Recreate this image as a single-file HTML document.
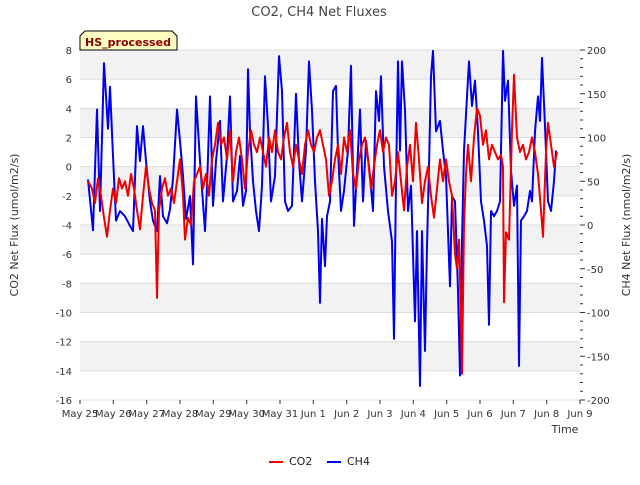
<!DOCTYPE html>
<html><head><meta charset="utf-8"><style>
body{margin:0;background:#fff;font-family:"Liberation Sans","DejaVu Sans",sans-serif;}
svg text{font-family:"DejaVu Sans","Liberation Sans",sans-serif;}
</style></head><body>
<svg id="chart" width="640" height="480" xmlns="http://www.w3.org/2000/svg">
<rect width="640" height="480" fill="#fff"/>
<text x="319" y="16" text-anchor="middle" font-size="13" fill="#444">CO2, CH4 Net Fluxes</text>
<g id="bands"></g>
<g id="grid"></g>
<g id="series"></g>
<g id="axes"></g>
<text transform="translate(18,225) rotate(-90)" text-anchor="middle" font-size="11" fill="#333">CO2 Net Flux (umol/m2/s)</text>
<text transform="translate(630,225) rotate(-90)" text-anchor="middle" font-size="11" fill="#333">CH4 Net Flux (nmol/m2/s)</text>
<text x="565" y="433" text-anchor="middle" font-size="11" fill="#333">Time</text>
<g>
<path d="M80,50 L80,36 L85,31 L172,31 L177,36 L177,50 Z" fill="#ffffc4" stroke="#000" stroke-width="1"/>
<text x="128" y="46" text-anchor="middle" font-size="11" font-weight="bold" fill="#8b0000">HS_processed</text>
</g>
<g>
<line x1="269" y1="462" x2="283" y2="462" stroke="#ee0000" stroke-width="2"/>
<text x="289" y="465" font-size="11" fill="#222">CO2</text>
<line x1="327" y1="462" x2="341" y2="462" stroke="#0000ee" stroke-width="2"/>
<text x="347" y="465" font-size="11" fill="#222">CH4</text>
</g>
</svg>
<script>
const xTickLabels=["May 25","May 26","May 27","May 28","May 29","May 30","May 31","Jun 1","Jun 2","Jun 3","Jun 4","Jun 5","Jun 6","Jun 7","Jun 8","Jun 9"];
const leftTicks=[8,6,4,2,0,-2,-4,-6,-8,-10,-12,-14,-16];
const rightTicks=[200,150,100,50,0,-50,-100,-150,-200];
const ch4Days=[0.24,0.39,0.51,0.60,0.72,0.84,0.90,0.99,1.08,1.20,1.35,1.50,1.59,1.71,1.80,1.89,1.98,2.10,2.19,2.31,2.40,2.49,2.61,2.70,2.79,2.91,3.00,3.09,3.18,3.30,3.39,3.48,3.60,3.75,3.81,3.90,3.99,4.08,4.20,4.29,4.41,4.50,4.59,4.71,4.80,4.89,4.98,5.04,5.10,5.19,5.28,5.37,5.46,5.55,5.64,5.73,5.85,5.97,6.06,6.15,6.24,6.36,6.48,6.57,6.66,6.78,6.87,6.96,7.05,7.14,7.20,7.26,7.35,7.41,7.50,7.59,7.68,7.74,7.83,7.92,8.04,8.13,8.22,8.31,8.40,8.49,8.58,8.70,8.79,8.88,8.97,9.03,9.12,9.24,9.36,9.42,9.48,9.54,9.60,9.66,9.75,9.84,9.93,10.05,10.11,10.20,10.26,10.35,10.41,10.47,10.53,10.59,10.68,10.80,10.89,10.98,11.07,11.10,11.16,11.25,11.34,11.40,11.46,11.52,11.61,11.67,11.76,11.85,11.94,12.03,12.12,12.21,12.27,12.33,12.42,12.51,12.60,12.69,12.75,12.84,12.93,13.02,13.11,13.17,13.23,13.32,13.41,13.50,13.56,13.65,13.74,13.80,13.86,13.95,14.04,14.13,14.22,14.28];
const ch4Values=[52,-6,132,16,185,110,158,79,5,16,10,-1,-7,113,73,113,73,27,5,-7,56,10,2,18,53,132,96,56,7,33,-45,147,73,-7,43,147,22,73,119,27,79,147,27,39,79,22,39,178,107,50,16,-7,45,170,113,27,56,193,153,27,16,22,150,73,27,85,187,131,50,-7,-89,7,-47,10,27,153,159,85,16,39,85,182,-1,62,132,27,96,56,16,153,119,170,67,16,-19,-130,50,187,85,187,131,16,45,-110,-7,-184,-7,-144,-24,67,170,199,107,119,85,56,-39,-70,33,27,-75,-172,-19,85,147,187,136,165,107,27,5,-24,-114,16,10,16,27,199,142,165,62,22,45,-161,5,10,16,39,27,107,147,119,191,113,27,16,50,85];
const co2Days=[0.24,0.36,0.45,0.54,0.63,0.72,0.81,0.90,0.99,1.08,1.17,1.26,1.35,1.44,1.53,1.62,1.71,1.80,1.89,1.98,2.07,2.16,2.25,2.31,2.37,2.46,2.55,2.64,2.73,2.82,2.91,3.00,3.09,3.15,3.24,3.33,3.42,3.51,3.60,3.69,3.78,3.87,3.96,4.05,4.14,4.23,4.32,4.41,4.50,4.59,4.68,4.77,4.86,4.95,5.04,5.13,5.22,5.31,5.40,5.49,5.58,5.67,5.76,5.85,5.94,6.03,6.12,6.21,6.30,6.39,6.48,6.57,6.66,6.75,6.84,6.93,7.02,7.11,7.20,7.29,7.38,7.47,7.56,7.65,7.74,7.83,7.92,8.01,8.10,8.19,8.28,8.37,8.46,8.55,8.64,8.73,8.82,8.91,9.00,9.09,9.18,9.27,9.36,9.45,9.54,9.63,9.72,9.81,9.90,9.99,10.08,10.17,10.26,10.35,10.44,10.53,10.62,10.71,10.80,10.89,10.98,11.07,11.16,11.25,11.31,11.37,11.43,11.46,11.52,11.58,11.64,11.73,11.82,11.91,12.00,12.09,12.18,12.27,12.36,12.45,12.54,12.63,12.69,12.72,12.78,12.87,12.96,13.02,13.11,13.20,13.29,13.38,13.47,13.56,13.65,13.74,13.83,13.89,13.98,14.04,14.13,14.22,14.31];
const co2Values=[-1,-1.5,-2.5,-0.8,-2,-3.5,-4.8,-3,-1.5,-2.5,-0.8,-1.5,-1,-2,-0.5,-1.5,-3,-4.3,-2,0,-1.5,-2.5,-3,-9,-3,-1.5,-0.8,-2,-1.5,-2.5,-1,0.5,-2,-5,-3.5,-4,-1,-0.5,0,-1.5,-0.5,-2,0.5,1.5,3,1.5,2,0.5,2.5,-1,1,2,0.5,-1.5,1,2.5,1.5,1,2,1,0,2,1,2.5,1,0.5,2,3,1,0,1.5,0.5,-0.5,1.5,2.5,1.5,1,2,2.5,1.5,0.5,-2,-1,0.5,1.5,-0.5,2,1,2.5,-0.5,-1.5,0.5,1.5,2,0.5,-1.5,0,1.5,2.5,1,2,1.5,-2,-1,1,-1,-3,0,1.5,-1,3,0.5,-2.5,-1,0,-2,-3.5,-1.5,0.5,-1,0.5,-1,-2,-6,-7,-5,-10.5,-14.2,-4,-0.5,1.5,-1,2,4,3.5,1.5,2.5,0.5,1.5,1,0.5,0.8,0,-9.3,-4.5,-5,2.5,6.3,2,1,1.5,0.5,1,2,1,-0.5,-3,-4.8,1,3,1.5,0,1];

const X0=80,X1=580,Y0=50,Y1=400,NS="http://www.w3.org/2000/svg";
const xs=d=>X0+(X1-X0)*d/15;
const yL=v=>Y0+(8-v)*(Y1-Y0)/24;
const yR=v=>Y0+(200-v)*(Y1-Y0)/400;
function mk(tag,attrs,parent){const e=document.createElementNS(NS,tag);for(const k in attrs)e.setAttribute(k,attrs[k]);parent.appendChild(e);return e;}
const bands=document.getElementById('bands'),grid=document.getElementById('grid'),axes=document.getElementById('axes'),series=document.getElementById('series');
for(let i=0;i<leftTicks.length-1;i++){
  if(i%2===0){const r=mk('rect',{x:X0,y:yL(leftTicks[i]),width:X1-X0,height:yL(leftTicks[i+1])-yL(leftTicks[i]),fill:'#f2f2f2'},bands);
  
  }
}
leftTicks.forEach(v=>{
  const l=mk('line',{x1:X0,x2:X1,y1:yL(v),y2:yL(v),stroke:'#dcdcdc','stroke-width':1},grid);
  
  
  const t=mk('text',{x:X0-8,y:yL(v)+4,'text-anchor':'end','font-size':10,fill:'#333'},axes);
  t.textContent=v;
  
  
});
rightTicks.forEach(v=>{
  const t=mk('text',{x:X1+7,y:yR(v)+4,'text-anchor':'start','font-size':10,fill:'#333'},axes);
  t.textContent=v;
  
  
});
for(let v=-200;v<=200;v+=10){
  const major=v%50===0;
  const l=mk('line',{x1:X1,x2:X1+(major?5:3),y1:yR(v),y2:yR(v),stroke:'#333','stroke-width':1},axes);
  
  
}
xTickLabels.forEach((s,i)=>{
  const l=mk('line',{x1:xs(i),x2:xs(i),y1:Y1,y2:Y1+4,stroke:'#333'},axes);
  
  
  const t=mk('text',{x:xs(i),y:Y1+17,'text-anchor':'middle','font-size':10,fill:'#333'},axes);
  t.textContent=s;
  
  
});
const ch4=mk('polyline',{points:ch4Days.map((d,i)=>xs(d).toFixed(1)+','+yR(ch4Values[i]).toFixed(1)).join(' '),fill:'none',stroke:'#0000ee','stroke-width':2,'stroke-linejoin':'round'},series);


const co2=mk('polyline',{points:co2Days.map((d,i)=>xs(d).toFixed(1)+','+yL(co2Values[i]).toFixed(1)).join(' '),fill:'none',stroke:'#ee0000','stroke-width':2,'stroke-linejoin':'round'},series);


</script>
</body></html>
